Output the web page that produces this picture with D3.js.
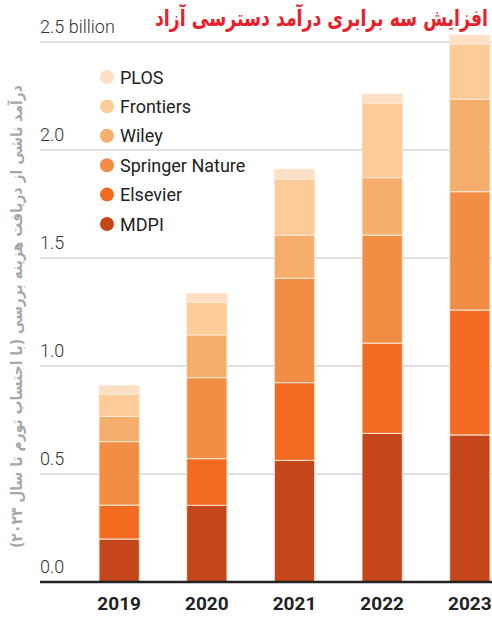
<!DOCTYPE html>
<html>
<head>
<meta charset="utf-8">
<script src="https://cdn.jsdelivr.net/npm/d3@7"></script>
<style>
  body { margin: 0; background: #fff; }
  svg { display: block; }
  text { font-family: Roboto, 'DejaVu Sans', sans-serif; }
</style>
</head>
<body>
<div class="chart"></div>
<script>
const years = ['2019', '2020', '2021', '2022', '2023'];
const publishers = ['MDPI', 'Elsevier', 'Springer Nature', 'Wiley', 'Frontiers', 'PLOS'];
const mdpi = [0.199, 0.355, 0.563, 0.688, 0.681];
const elsevier = [0.157, 0.216, 0.36, 0.418, 0.578];
const springer = [0.294, 0.375, 0.483, 0.5, 0.548];
const wiley = [0.117, 0.198, 0.2, 0.266, 0.428];
const frontiers = [0.102, 0.151, 0.258, 0.344, 0.256];
const plos = [0.04, 0.041, 0.047, 0.043, 0.041];
const yTicks = [0, 0.5, 1, 1.5, 2, 2.5];
const colors = ['#c4461a', '#f26b21', '#f28d45', '#f5ae6b', '#fccb98', '#fde0c4'];
const title = 'افزایش سه برابری درآمد دسترسی آزاد';
const yLabel = 'درآمد ناشی از دریافت هزینه بررسی (با احتساب تورم تا سال ۲۰۲۳)';

const series = [mdpi, elsevier, springer, wiley, frontiers, plos];
const table = years.map((year, i) => {
  const row = { year };
  publishers.forEach((p, j) => { row[p] = series[j][i]; });
  return row;
});

const width = 492;
const height = 620;

const svg = d3.select('.chart')
  .append('svg')
  .attr('width', width)
  .attr('height', height);

const yScale = d3.scaleLinear()
  .domain([0, 2.5])
  .range([582, 42]);

const xScale = d3.scaleBand()
  .domain(years)
  .range([99, 490])
  .paddingInner(0.54)
  .paddingOuter(0);

const colorScale = d3.scaleOrdinal().domain(publishers).range(colors);

// gridlines
svg.append('g')
  .selectAll('line')
  .data(yTicks.filter((d) => d > 0))
  .join('line')
  .attr('x1', 40)
  .attr('x2', width)
  .attr('y1', (d) => yScale(d))
  .attr('y2', (d) => yScale(d))
  .attr('stroke', '#d6d6d6')
  .attr('stroke-width', 1.5);

// tick labels
svg.append('g')
  .selectAll('text')
  .data(yTicks)
  .join('text')
  .attr('x', 40)
  .attr('y', (d) => yScale(d) - 9)
  .attr('fill', '#333')
  .style('font-size', '18px')
  .style('font-weight', 300)
  .text((d) => (d === 2.5 ? '2.5 billion' : d.toFixed(1)));

// bars
const stacked = d3.stack().keys(publishers)(table);

svg.append('g')
  .selectAll('g')
  .data(stacked)
  .join('g')
  .attr('fill', (d) => colorScale(d.key))
  .selectAll('rect')
  .data((d) => d)
  .join('rect')
  .attr('x', (d) => xScale(d.data.year))
  .attr('width', xScale.bandwidth())
  .attr('y', (d) => yScale(d[1]))
  .attr('height', (d) => yScale(d[0]) - yScale(d[1]))
  .attr('stroke', '#fbe8d4')
  .attr('stroke-width', 1);

// baseline
svg.append('line')
  .attr('x1', 40)
  .attr('x2', width)
  .attr('y1', yScale(0))
  .attr('y2', yScale(0))
  .attr('stroke', '#222')
  .attr('stroke-width', 2.5);

// x axis labels
svg.append('g')
  .selectAll('text')
  .data(years)
  .join('text')
  .attr('x', (d) => xScale(d) + xScale.bandwidth() / 2)
  .attr('y', 610)
  .attr('text-anchor', 'middle')
  .attr('fill', '#222')
  .style('font-size', '19px')
  .style('font-weight', 700)
  .text((d) => d);

// legend
const legend = svg.append('g')
  .selectAll('g')
  .data(publishers.slice().reverse())
  .join('g')
  .attr('transform', (d, i) => `translate(107, ${77 + i * 29.4})`);

legend.append('circle')
  .attr('r', 7)
  .attr('fill', (d) => colorScale(d));

legend.append('text')
  .attr('x', 13)
  .attr('y', 6.5)
  .attr('fill', '#222')
  .style('font-size', '18px')
  .text((d) => d);

// title
svg.append('text')
  .attr('x', 488)
  .attr('y', 26)
  .attr('text-anchor', 'start')
  .attr('direction', 'rtl')
  .attr('textLength', 333)
  .attr('lengthAdjust', 'spacingAndGlyphs')
  .attr('fill', '#e8202a')
  .style('font-family', "'DejaVu Sans', sans-serif")
  .style('font-size', '23px')
  .style('font-weight', 700)
  .text(title);

// y axis label
svg.append('text')
  .attr('transform', 'translate(22, 316.5) rotate(-90)')
  .attr('text-anchor', 'middle')
  .attr('direction', 'rtl')
  .attr('textLength', 463)
  .attr('lengthAdjust', 'spacingAndGlyphs')
  .attr('fill', '#a8a8a8')
  .style('font-family', "'DejaVu Sans', sans-serif")
  .style('font-size', '16px')
  .style('font-weight', 700)
  .text(yLabel);
</script>
</body>
</html>
